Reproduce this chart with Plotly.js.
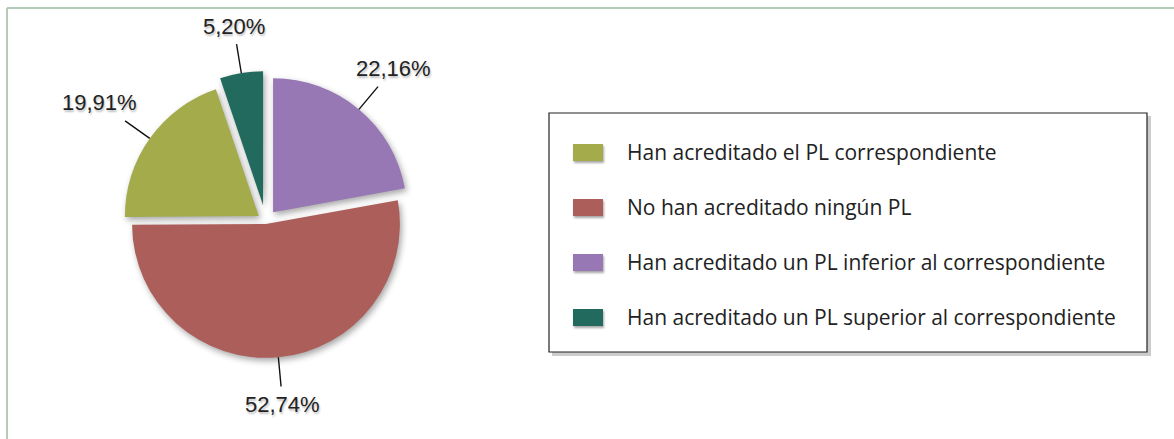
<!DOCTYPE html>
<html><head><meta charset="utf-8">
<script src="https://cdn.plot.ly/plotly-3.0.1.min.js"></script>
<style>html,body{margin:0;padding:0;background:#fff;} #chart{width:1174px;height:439px;}</style>
</head><body><div id="chart"></div>
<script>
// ---- data ----
const categories = [
  "Han acreditado el PL correspondiente",
  "No han acreditado ningún PL",
  "Han acreditado un PL inferior al correspondiente",
  "Han acreditado un PL superior al correspondiente"
];
const percentages = [19.91, 52.74, 22.16, 5.20];
// ---- style ----
const colors = ["#a3ab4b", "#ac5f5a", "#9777b4", "#236a5e"];
const pulls = [0.063, 0.022, 0.086, 0.12];

const W = 1174, H = 439;
const total = percentages.reduce((a, b) => a + b, 0);
const pctText = percentages.map(v => v.toFixed(2).replace('.', ',') + '%');
// counterclockwise: first slice occupies [rotation, rotation + its share]; make the 3rd slice start at 12 o'clock
const rotation = (percentages[1] + percentages[2]) / total * 360;

const labelFont = '"Liberation Sans", Arial, sans-serif';
const labelSize = 22;

// pie box (pixels) -> paper domain
const pcx = 265.7, pcy = 221, half = 150;
const data = [{
  type: 'pie',
  labels: categories.map(c => '<span style="font-size:21px">' + c + '</span><br>&nbsp;'),
  values: percentages,
  sort: false,
  direction: 'counterclockwise',
  rotation: rotation,
  pull: pulls,
  marker: {colors: colors, line: {width: 0}},
  textinfo: 'none',
  hoverinfo: 'skip',
  domain: {x: [(pcx - half) / W, (pcx + half) / W], y: [1 - (pcy + half) / H, 1 - (pcy - half) / H]}
}];

const px = v => v / W, py = v => 1 - v / H;
const layout = {
  width: W, height: H,
  margin: {l: 0, r: 0, t: 0, b: 0},
  paper_bgcolor: '#ffffff',
  showlegend: true,
  legend: {
    x: px(549), y: py(133), xanchor: 'left', yanchor: 'top',
    bgcolor: 'rgba(0,0,0,0)', borderwidth: 0,
    font: {family: '"Open Sans", "Noto Sans", sans-serif', size: 20, color: '#222222'},
    valign: 'top', itemwidth: 68, traceorder: 'normal'
  },
  shapes: [
    // outer frame (top + left)
    {type: 'line', xref: 'paper', yref: 'paper', x0: px(7), x1: 1, y0: py(8), y1: py(8), line: {color: '#b3ccb7', width: 2}},
    {type: 'line', xref: 'paper', yref: 'paper', x0: px(7), x1: px(7), y0: py(8), y1: 0, line: {color: '#b3ccb7', width: 2}},
    // legend box shadow + box
    {type: 'rect', xref: 'paper', yref: 'paper', x0: px(552), x1: px(1151), y0: py(356), y1: py(116), line: {width: 0}, fillcolor: 'rgba(0,0,0,0.2)', layer: 'below'},
    {type: 'rect', xref: 'paper', yref: 'paper', x0: px(549), x1: px(1147), y0: py(352), y1: py(113), line: {color: '#222222', width: 1.2}, fillcolor: '#ffffff', layer: 'below'}
  ]
};

function styleMarks() {
  gd.querySelectorAll('.pielayer .slice path.surface').forEach(p => {
    p.style.filter = 'drop-shadow(2px 3px 3px rgba(0,0,0,0.35))';
  });
  gd.querySelectorAll('.legend .legendpoints path').forEach(p => {
    p.setAttribute('d', 'M15,8.5H-15V-8.5H15Z');
    p.style.filter = 'drop-shadow(1px 2px 1px rgba(0,0,0,0.35))';
  });
}

const gd = document.getElementById('chart');
Plotly.newPlot(gd, data, layout, {displayModeBar: false, staticPlot: true}).then(() => {
  const cd = gd.calcdata[0];
  const cd0 = cd[0];
  const r = cd0.r;
  const ctx = document.createElement('canvas').getContext('2d');
  ctx.font = labelSize + 'px ' + labelFont;
  const L = 28, pad = 5;
  const anns = cd.map(pt => {
    const i = pt.i;
    const pull = pulls[i];
    const ux = pt.pxmid[0] / r, uy = pt.pxmid[1] / r;
    const ex = cd0.cx + pt.pxmid[0] * (1 + pull);
    const ey = cd0.cy + pt.pxmid[1] * (1 + pull);
    const hw = ctx.measureText(pctText[i]).width / 2 + pad + 1;
    const hh = labelSize * 1.3 / 2 + pad;
    const e = Math.min(Math.abs(ux) > 1e-6 ? hw / Math.abs(ux) : 1e9, Math.abs(uy) > 1e-6 ? hh / Math.abs(uy) : 1e9);
    return {
      xref: 'paper', yref: 'paper', x: ex / W, y: 1 - ey / H,
      text: pctText[i], showarrow: true, arrowhead: 0, arrowwidth: 1.4, arrowcolor: '#111111', standoff: 0,
      borderpad: pad, bordercolor: 'rgba(0,0,0,0)',
      ax: ux * (L + e), ay: uy * (L + e),
      font: {family: labelFont, size: labelSize, color: '#222222', shadow: '1px 2px 2px rgba(0,0,0,0.25)'}
    };
  });
  return Plotly.relayout(gd, {annotations: anns});
}).then(styleMarks);
</script>
</body></html>
